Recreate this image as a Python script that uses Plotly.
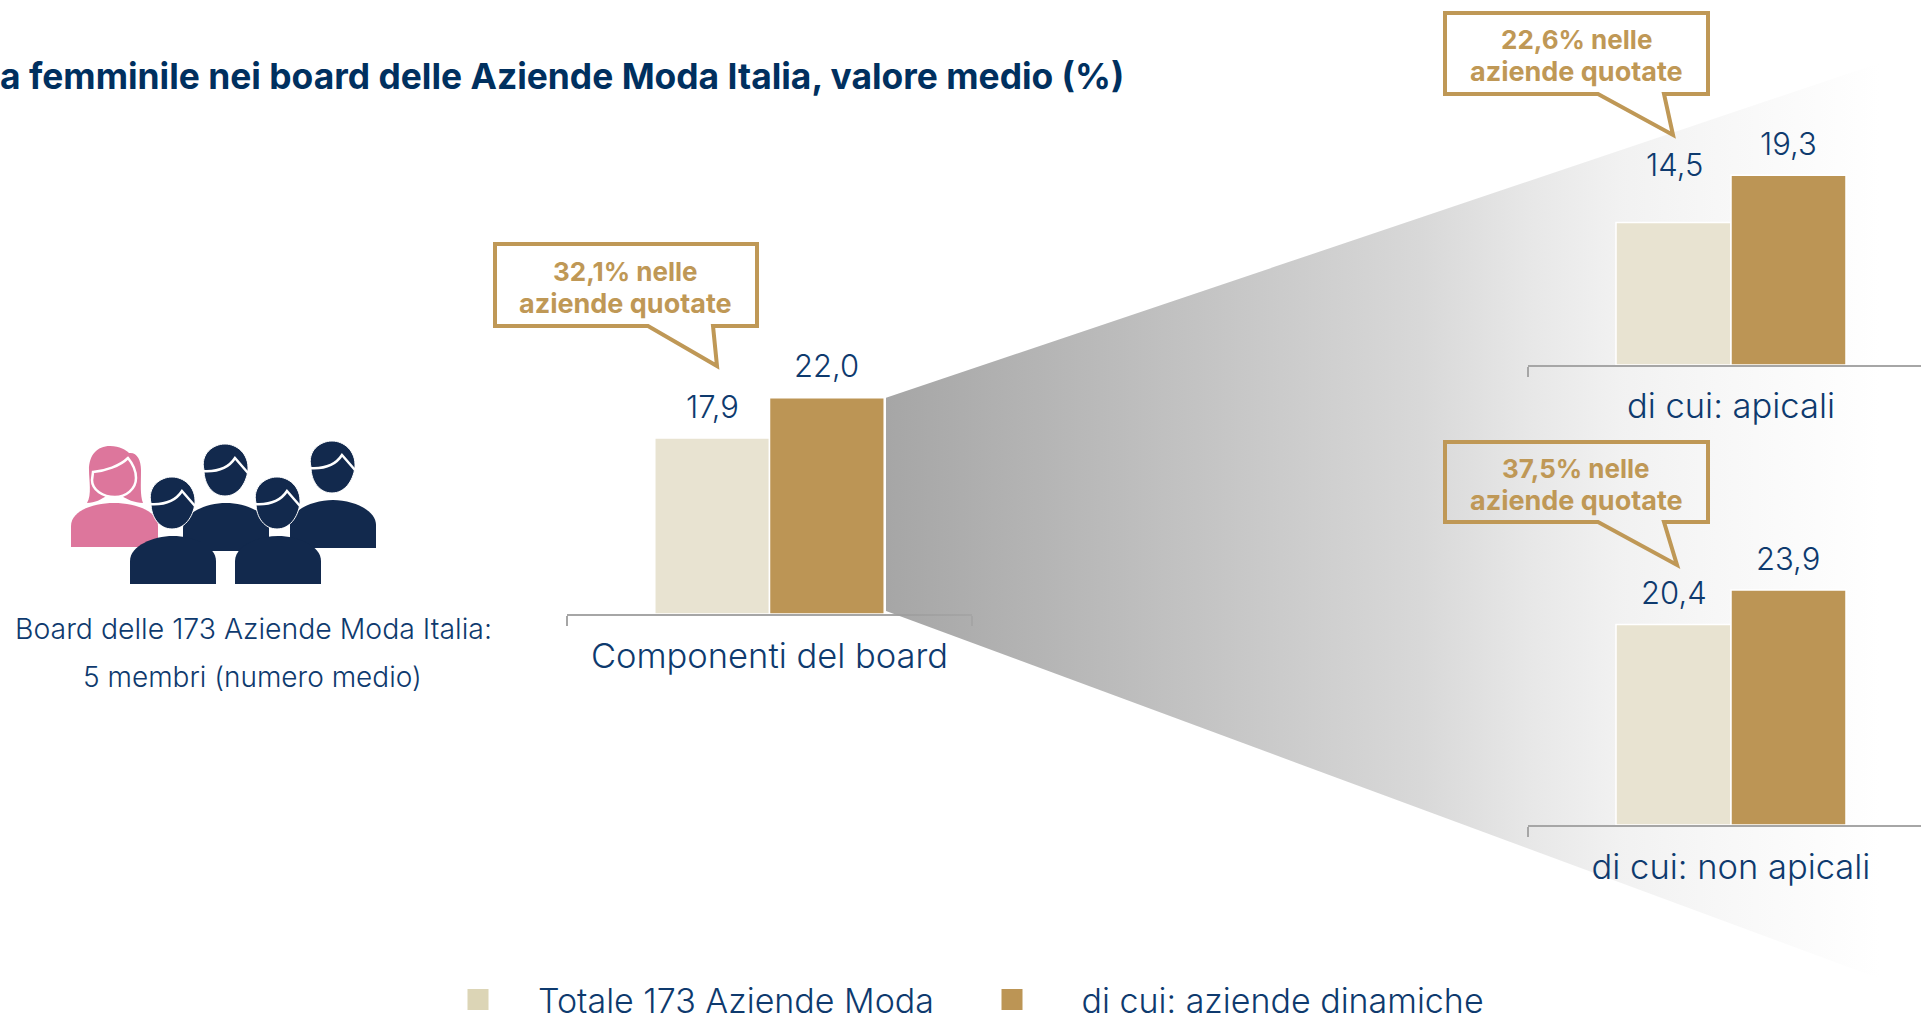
import plotly.graph_objects as go

categories = ["Componenti del board", "di cui: apicali", "di cui: non apicali"]
totale = [17.9, 14.5, 20.4]
dinamiche = [22.0, 19.3, 23.9]
quotate = ["32,1%", "22,6%", "37,5%"]
series_names = ["Totale 173 Aziende Moda", "\u00a0di cui: aziende dinamiche"]
title_text = "a femminile nei board delle Aziende Moda Italia, valore medio (%)"
board_lines = ["Board delle 173 Aziende Moda Italia:", "5 membri (numero medio)"]

W, H = 1921, 1014
NAVY = "#0E3A6E"
TITLE_NAVY = "#00305F"
GOLD = "#BF9856"
BAR_LIGHT = "#E8E3D1"
BAR_DARK = "#BC9555"
LEG_LIGHT = "#DCD5B6"
LEG_DARK = "#BC9555"
AXIS = "#A6A6A6"
PINK = "#DD769C"
DARKBLUE = "#12294D"
FONT = "Inter"
PX_PER_UNIT = 9.83

fig = go.Figure()

panels = [
    dict(x0=567, x1=972, base=614, top=200, rng=[-0.5, 0.5], xa="x", ya="y", size=34.5, standoff=11),
    dict(x0=1528, x1=1921, base=365, top=100, rng=[-0.5, 0.468], xa="x3", ya="y3", size=34.5, standoff=10),
    dict(x0=1528, x1=1921, base=825, top=470, rng=[-0.5, 0.468], xa="x4", ya="y4", size=34.5, standoff=11),
]

for i, p in enumerate(panels):
    fig.add_trace(go.Bar(x=[categories[i]], y=[totale[i]], name=series_names[0], marker=dict(color=BAR_LIGHT, line=dict(color="white", width=1.5)), xaxis=p["xa"], yaxis=p["ya"], showlegend=False))
    fig.add_trace(go.Bar(x=[categories[i]], y=[dinamiche[i]], name=series_names[1].strip(), marker=dict(color=BAR_DARK, line=dict(color="white", width=1.5)), xaxis=p["xa"], yaxis=p["ya"], showlegend=False))
    suffix = p["xa"][1:]
    fig.update_layout({
        "xaxis" + suffix: dict(
            domain=[p["x0"] / W, p["x1"] / W], range=p["rng"], type="category", anchor=p["ya"],
            showline=True, linecolor=AXIS, linewidth=2, ticks="outside", tickson="boundaries",
            ticklen=10, tickwidth=2, tickcolor=AXIS, showgrid=False, zeroline=False,
            tickfont=dict(family=FONT, size=p["size"], color=NAVY, weight=300),
            ticklabelstandoff=p["standoff"], fixedrange=True),
        "yaxis" + suffix: dict(
            domain=[1 - p["base"] / H, 1 - p["top"] / H],
            range=[0, (p["base"] - p["top"]) / PX_PER_UNIT], visible=False, anchor=p["xa"], fixedrange=True),
    })
    for v, dx in ((totale[i], -57), (dinamiche[i], 57)):
        lift = 58 if v == 14.5 else 32
        fig.add_annotation(x=categories[i], y=v, xref=p["xa"], yref=p["ya"], xshift=dx, yshift=lift,
                           text=f"{v:.1f}".replace(".", ","), showarrow=False, yanchor="middle", xanchor="center",
                           font=dict(family=FONT, size=31, color=NAVY, weight=300))

fig.update_layout(
    xaxis2=dict(domain=[0, 1], range=[0, W], visible=False, anchor="y2", fixedrange=True),
    yaxis2=dict(domain=[0, 1], range=[H, 0], visible=False, anchor="x2", fixedrange=True),
)
fig.add_trace(go.Scatter(
    x=[886, 1921, 1921, 886, 886], y=[397.7, 49, 994, 611, 397.7], mode="lines", fill="toself",
    line=dict(width=0, color="rgba(0,0,0,0)"), xaxis="x2", yaxis="y2", showlegend=False, hoverinfo="skip",
    fillgradient=dict(type="horizontal", start=886, stop=1880,
                      colorscale=[[0, "rgba(156,156,156,0.9)"], [0.54, "rgba(212,212,212,0.9)"],
                                  [0.65, "rgba(229,229,229,0.9)"], [0.74, "rgba(240,240,240,0.9)"],
                                  [0.85, "rgba(247,247,247,0.9)"], [1, "rgba(255,255,255,0.9)"]]),
))
for name, col in zip(series_names, (LEG_LIGHT, LEG_DARK)):
    fig.add_trace(go.Scatter(x=[None], y=[None], name=name, mode="markers", xaxis="x2", yaxis="y2",
                             marker=dict(symbol="square", size=16, color=col, line=dict(color=col, width=5))))

shapes = []
def pth(d, fill=None, line=None, width=0):
    shapes.append(dict(type="path", path=d, xref="x2", yref="y2", layer="above",
                       fillcolor=fill or "rgba(0,0,0,0)",
                       line=dict(color=line or "rgba(0,0,0,0)", width=width)))

def callout(x0, y0, x1, y1, t0, tipx, tipy, t1):
    pth(f"M{x0},{y0}L{x1},{y0}L{x1},{y1}L{t1},{y1}L{tipx},{tipy}L{t0},{y1}L{x0},{y1}Z", line=GOLD, width=4)
callout(495, 244, 757, 326, 648, 717, 366, 713)
callout(1445, 13, 1708, 94, 1598, 1673, 135, 1664)
callout(1445, 442, 1708, 522, 1598, 1677, 565, 1664)
for txt, cx, y1, y2 in ((quotate[0], 625, 271, 303), (quotate[1], 1576, 39, 71), (quotate[2], 1576, 468, 500)):
    fig.add_annotation(x=cx, y=y1, xref="x2", yref="y2", text=f"{txt} nelle", showarrow=False, font=dict(family=FONT, size=26, color=GOLD, weight=700))
    fig.add_annotation(x=cx, y=y2, xref="x2", yref="y2", text="aziende quotate", showarrow=False, font=dict(family=FONT, size=27, color=GOLD, weight=700))

def woman():
    pth("M71,547L71,526C71,511 93,503 114,503C135,503 158,511 158,526L158,547Z", fill=PINK)
    pth("M87,503C92,495 89,480 89,470C89,455 97,446 110,446C120,446 126,450 129,453C137,452 141,460 141,470C141,485 140,495 143,503C135,503 126,499 122,496L106,496C102,499 95,503 87,503Z", fill=PINK)
    pth("M93,472C105,471 120,466 128,458C133,464 136,470 136,478C136,489 126,497 115,497C103,497 92,490 92,480Z", line="white", width=2.5)

def man(cx, dy):
    b, t = 551 + dy, 503 + dy
    pth(f"M{cx-43},{b}L{cx-43},{b-23}C{cx-43},{b-38} {cx-20},{t} {cx},{t}C{cx+20},{t} {cx+43},{b-38} {cx+43},{b-23}L{cx+43},{b}Z", fill=DARKBLUE)
    hx, hy = cx - 1, 470 + dy
    pth(f"M{hx-21},{hy}C{hx-25},{hy-16} {hx-12},{hy-26} {hx},{hy-26}C{hx+12},{hy-26} {hx+24},{hy-16} {hx+23},{hy}C{hx+21},{hy+15} {hx+12},{hy+26} {hx},{hy+26}C{hx-12},{hy+26} {hx-21},{hy+15} {hx-21},{hy}Z", fill=DARKBLUE, line="white", width=1)
    pth(f"M{hx-23},{hy+1}C{hx-10},{hy+2} {hx+3},{hy-1} {hx+10},{hy-12}L{hx+23},{hy+3}", line="white", width=2.5)

woman()
man(226, 0)
man(333, -3)
man(173, 33)
man(278, 33)
fig.update_layout(shapes=shapes)

fig.add_annotation(x=1, y=76, xref="x2", yref="y2", xanchor="left", text=title_text, showarrow=False, xshift=-3,
                   font=dict(family=FONT, size=35.4, color=TITLE_NAVY, weight=700))
fig.add_annotation(x=253, y=628, xref="x2", yref="y2", text=board_lines[0], showarrow=False, font=dict(family=FONT, size=28.4, color=NAVY, weight=300))
fig.add_annotation(x=252, y=677, xref="x2", yref="y2", text=board_lines[1], showarrow=False, font=dict(family=FONT, size=28, color=NAVY, weight=300))

fig.update_layout(
    width=W, height=H, margin=dict(l=0, r=0, t=0, b=0, autoexpand=False), autosize=False,
    paper_bgcolor="white", plot_bgcolor="rgba(0,0,0,0)",
    barmode="group", bargap=0.4335, bargroupgap=0,
    hovermode=False,
    legend=dict(orientation="h", x=418 / W, xanchor="left", y=1 - 971 / H, yanchor="top",
                font=dict(family=FONT, size=34, color=NAVY, weight=300),
                bgcolor="rgba(0,0,0,0)", itemwidth=110, entrywidth=409, entrywidthmode="pixels",
                itemsizing="trace", itemclick=False, itemdoubleclick=False),
)
fig.write_html("out.html", config={"displayModeBar": False}, post_script="document.body.style.margin='0';")
